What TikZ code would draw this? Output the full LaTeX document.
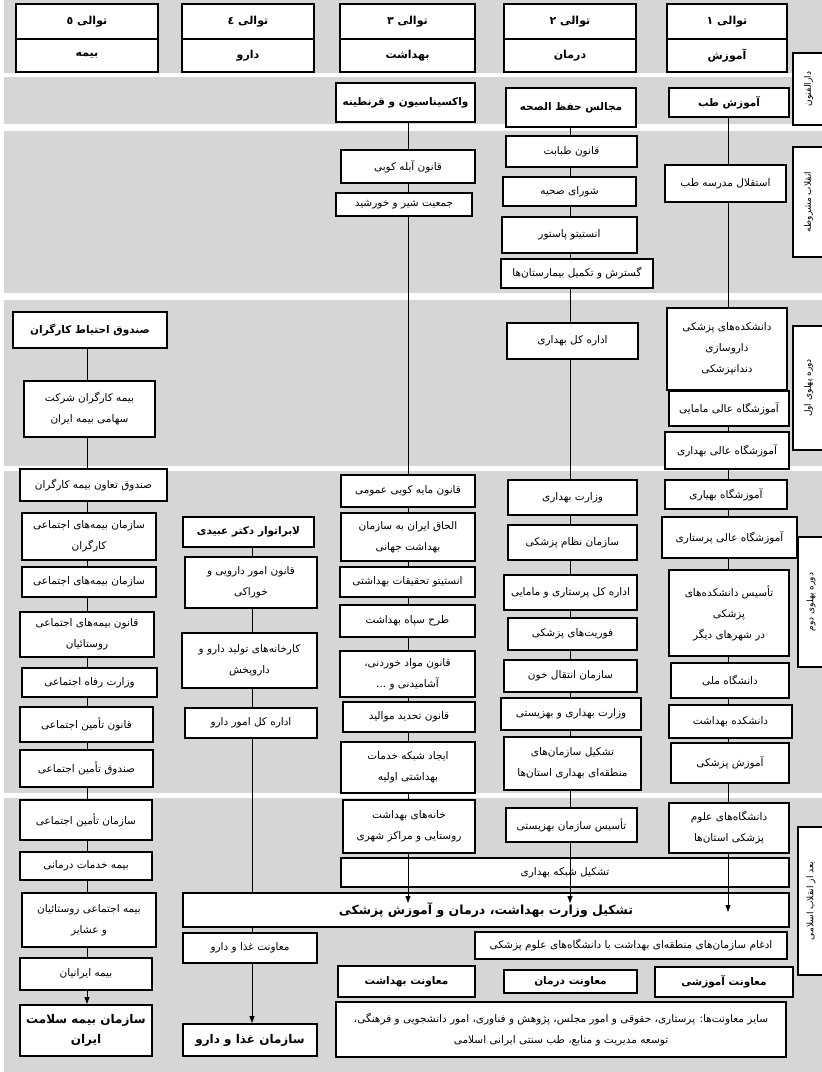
\documentclass[tikz,border=0pt]{standalone}
\usepackage{fontspec}
\usetikzlibrary{arrows.meta}
\newfontfamily\farsifont[Script=Arabic]{DejaVu Sans}
\TeXXeTstate=1
\newcommand\rl[1]{\beginR #1\endR}
\definecolor{bandgray}{RGB}{214,214,214}
\tikzset{
  box/.style={draw, line width=2pt, fill=white, align=center, inner sep=1pt,
    font=\farsifont\fontsize{10.5}{21}\selectfont},
  bbox/.style={box, font=\farsifont\bfseries\fontsize{10.5}{16}\selectfont},
  hbox/.style={box, font=\farsifont\bfseries\fontsize{11}{15}\selectfont},
  bigbox/.style={box, font=\farsifont\bfseries\fontsize{12}{20}\selectfont},
  lbl/.style={box, rotate=90, font=\farsifont\fontsize{9}{11}\selectfont},
  conn/.style={line width=0.9pt},
  arr/.style={conn, -{Triangle[length=7pt,width=5pt]}}
}
\newcommand\mybox[7][box]{\node[#1, minimum width={#5-#3}, minimum height={#6-#4}] (#2) at ({(#3+#5)/2},{(#4+#6)/2}) {#7};}
\begin{document}
\begin{tikzpicture}[x=1pt,y=-1pt]
\useasboundingbox (0,0) rectangle (822,1072);
% bands
\fill[bandgray] (4,0) rectangle (822,73);
\fill[bandgray] (4,77) rectangle (822,124);
\fill[bandgray] (4,131) rectangle (822,293);
\fill[bandgray] (4,300) rectangle (822,466);
\fill[bandgray] (4,471) rectangle (822,793);
\fill[bandgray] (4,798) rectangle (822,1072);
% column axes
\coordinate (x1) at (728,0);
\coordinate (x2) at (570,0);
\coordinate (x3) at (408,0);
\coordinate (x4) at (252,0);
\coordinate (x5) at (87,0);
\coordinate (t1) at (728,912);
\coordinate (t2) at (570,903);
\coordinate (t3) at (408,903);
% headers
\mybox[hbox]{h1t}{667}{4}{787}{39}{\rl{توالی ۱}}
\mybox[hbox]{h1b}{667}{39}{787}{72}{\rl{آموزش}}
\mybox[hbox]{h2t}{504}{4}{636}{39}{\rl{توالی ۲}}
\mybox[hbox]{h2b}{504}{39}{636}{72}{\rl{درمان}}
\mybox[hbox]{h3t}{340}{4}{475}{39}{\rl{توالی ۳}}
\mybox[hbox]{h3b}{340}{39}{475}{72}{\rl{بهداشت}}
\mybox[hbox]{h4t}{182}{4}{314}{39}{\rl{توالی ٤}}
\mybox[hbox]{h4b}{182}{39}{314}{72}{\rl{دارو}}
\mybox[hbox]{h5t}{16}{4}{158}{39}{\rl{توالی ٥}}
\mybox[hbox]{h5b}{16}{39}{158}{72}{\rl{بیمه}}
% period labels
\node[lbl, minimum width=72, minimum height=31] (L1) at (808.5,89) {\rl{دارالفنون}};
\node[lbl, minimum width=110, minimum height=31] (L2) at (808.5,202) {\rl{انقلاب مشروطه}};
\node[lbl, minimum width=124, minimum height=31] (L3) at (808.5,388) {\rl{دوره پهلوی اول}};
\node[lbl, minimum width=130, minimum height=26] (L4) at (811,602) {\rl{دوره پهلوی دوم}};
\node[lbl, minimum width=148, minimum height=26] (L5) at (811,901) {\rl{بعد از انقلاب اسلامی}};
% column 1
\mybox[bbox]{a1}{669}{88}{789}{117}{\rl{آموزش طب}}
\mybox{a2}{665}{165}{786}{202}{\rl{استقلال مدرسه طب}}
\mybox{a3}{667}{308}{787}{390}{\rl{دانشکده^^^^200cهای پزشکی}\\\rl{داروسازی}\\\rl{دندانپزشکی}}
\mybox{a4}{669}{391}{789}{426}{\rl{آموزشگاه عالی مامایی}}
\mybox{a5}{665}{432}{789}{469}{\rl{آموزشگاه عالی بهداری}}
\mybox{a6}{665}{480}{787}{509}{\rl{آموزشگاه بهیاری}}
\mybox{a7}{662}{517}{797}{558}{\rl{آموزشگاه عالی پرستاری}}
\mybox{a8}{669}{570}{789}{656}{\rl{تأسیس دانشکده^^^^200cهای}\\\rl{پزشکی}\\\rl{در شهرهای دیگر}}
\mybox{a9}{671}{663}{789}{698}{\rl{دانشگاه ملی}}
\mybox{a10}{669}{705}{792}{738}{\rl{دانشکده بهداشت}}
\mybox{a11}{671}{743}{789}{783}{\rl{آموزش پزشکی}}
\mybox{a12}{669}{803}{789}{853}{\rl{دانشگاه^^^^200cهای علوم}\\\rl{پزشکی استان^^^^200cها}}
% column 2
\mybox[bbox]{b1}{506}{88}{636}{127}{\rl{مجالس حفظ الصحه}}
\mybox{b2}{506}{136}{637}{167}{\rl{قانون طبابت}}
\mybox{b3}{503}{177}{636}{206}{\rl{شورای صحیه}}
\mybox{b4}{502}{217}{637}{253}{\rl{انستیتو پاستور}}
\mybox{b5}{501}{259}{653}{288}{\rl{گسترش و تکمیل بیمارستان^^^^200cها}}
\mybox{b6}{507}{323}{638}{359}{\rl{اداره کل بهداری}}
\mybox{b7}{508}{480}{637}{515}{\rl{وزارت بهداری}}
\mybox{b8}{508}{525}{637}{560}{\rl{سازمان نظام پزشکی}}
\mybox{b9}{504}{575}{637}{610}{\rl{اداره کل پرستاری و مامایی}}
\mybox{b10}{508}{618}{637}{650}{\rl{فوریت^^^^200cهای پزشکی}}
\mybox{b11}{504}{660}{637}{692}{\rl{سازمان انتقال خون}}
\mybox{b12}{501}{698}{641}{730}{\rl{وزارت بهداری و بهزیستی}}
\mybox{b13}{504}{737}{641}{790}{\rl{تشکیل سازمان^^^^200cهای}\\\rl{منطقه^^^^200cای بهداری استان^^^^200cها}}
\mybox{b14}{506}{808}{637}{842}{\rl{تأسیس سازمان بهزیستی}}
% column 3
\mybox[bbox]{c1}{336}{83}{475}{122}{\rl{واکسیناسیون و قرنطینه}}
\mybox{c2}{341}{150}{475}{183}{\rl{قانون آبله کوبی}}
\mybox{c3}{336}{193}{472}{216}{\rl{جمعیت شیر و خورشید}}
\mybox{c4}{341}{475}{475}{507}{\rl{قانون مایه کوبی عمومی}}
\mybox{c5}{341}{513}{475}{561}{\rl{الحاق ایران به سازمان}\\\rl{بهداشت جهانی}}
\mybox{c6}{340}{567}{475}{597}{\rl{انستیتو تحقیقات بهداشتی}}
\mybox{c7}{340}{605}{475}{637}{\rl{طرح سپاه بهداشت}}
\mybox{c8}{340}{651}{475}{697}{\rl{قانون مواد خوردنی،}\\\rl{آشامیدنی و ...}}
\mybox{c9}{343}{702}{475}{732}{\rl{قانون تحدید موالید}}
\mybox{c10}{341}{742}{475}{793}{\rl{ایجاد شبکه خدمات}\\\rl{بهداشتی اولیه}}
\mybox{c11}{343}{800}{475}{853}{\rl{خانه^^^^200cهای بهداشت}\\\rl{روستایی و مراکز شهری}}
% column 4
\mybox[bbox]{d1}{183}{517}{314}{547}{\rl{لابراتوار دکتر عبیدی}}
\mybox{d2}{185}{557}{317}{608}{\rl{قانون امور دارویی و}\\\rl{خوراکی}}
\mybox{d3}{182}{633}{317}{688}{\rl{کارخانه^^^^200cهای تولید دارو و}\\\rl{داروپخش}}
\mybox{d4}{185}{708}{317}{738}{\rl{اداره کل امور دارو}}
\mybox{d5}{183}{933}{317}{963}{\rl{معاونت غذا و دارو}}
\mybox[bigbox]{d6}{183}{1024}{317}{1056}{\rl{سازمان غذا و دارو}}
% column 5
\mybox[bbox]{e1}{13}{312}{167}{348}{\rl{صندوق احتیاط کارگران}}
\mybox{e2}{24}{381}{155}{437}{\rl{بیمه کارگران شرکت}\\\rl{سهامی بیمه ایران}}
\mybox{e3}{20}{469}{167}{501}{\rl{صندوق تعاون بیمه کارگران}}
\mybox{e4}{22}{513}{156}{560}{\rl{سازمان بیمه^^^^200cهای اجتماعی}\\\rl{کارگران}}
\mybox{e5}{22}{567}{156}{597}{\rl{سازمان بیمه^^^^200cهای اجتماعی}}
\mybox{e6}{20}{612}{154}{657}{\rl{قانون بیمه^^^^200cهای اجتماعی}\\\rl{روستائیان}}
\mybox{e7}{22}{668}{157}{697}{\rl{وزارت رفاه اجتماعی}}
\mybox{e8}{20}{707}{153}{742}{\rl{قانون تأمین اجتماعی}}
\mybox{e9}{20}{750}{153}{787}{\rl{صندوق تأمین اجتماعی}}
\mybox{e10}{20}{800}{152}{840}{\rl{سازمان تأمین اجتماعی}}
\mybox{e11}{20}{852}{152}{880}{\rl{بیمه خدمات درمانی}}
\mybox{e12}{22}{893}{156}{947}{\rl{بیمه اجتماعی روستائیان}\\\rl{و عشایر}}
\mybox{e13}{20}{958}{152}{990}{\rl{بیمه ایرانیان}}
\mybox[bigbox]{e14}{20}{1005}{152}{1056}{\rl{سازمان بیمه سلامت}\\\rl{ایران}}
% wide boxes of the last period
\mybox{net}{341}{858}{789}{887}{\rl{تشکیل شبکه بهداری}}
\mybox[bigbox]{big}{183}{893}{789}{927}{\fontsize{12.5}{18}\selectfont\rl{تشکیل وزارت بهداشت، درمان و آموزش پزشکی}}
\mybox{merge}{475}{932}{787}{959}{\rl{ادغام سازمان^^^^200cهای منطقه^^^^200cای بهداشت با دانشگاه^^^^200cهای علوم پزشکی}}
\mybox[bbox]{m1}{655}{967}{793}{997}{\rl{معاونت آموزشی}}
\mybox[bbox]{m2}{504}{970}{637}{993}{\rl{معاونت درمان}}
\mybox[bbox]{m3}{338}{966}{475}{997}{\rl{معاونت بهداشت}}
\mybox{other}{336}{1002}{786}{1057}{\rl{سایر معاونت^^^^200cها: پرستاری، حقوقی و امور مجلس، پژوهش و فناوری، امور دانشجویی و فرهنگی،}\\\rl{توسعه مدیریت و منابع، طب سنتی ایرانی اسلامی}}
% connectors column 1
\foreach \p/\q in {a1/a2,a2/a3,a3/a4,a4/a5,a5/a6,a6/a7,a7/a8,a8/a9,a9/a10,a10/a11,a11/a12}
  \draw[conn] (\p.south -| x1) -- (\q.north -| x1);
\draw[arr] (a12.south -| x1) -- (t1);
% column 2
\foreach \p/\q in {b1/b2,b2/b3,b3/b4,b4/b5,b5/b6,b6/b7,b7/b8,b8/b9,b9/b10,b10/b11,b11/b12,b12/b13,b13/b14}
  \draw[conn] (\p.south -| x2) -- (\q.north -| x2);
\draw[arr] (b14.south -| x2) -- (t2);
% column 3
\foreach \p/\q in {c1/c2,c2/c3,c3/c4,c4/c5,c5/c6,c6/c7,c7/c8,c8/c9,c9/c10,c10/c11}
  \draw[conn] (\p.south -| x3) -- (\q.north -| x3);
\draw[arr] (c11.south -| x3) -- (t3);
% column 4
\foreach \p/\q in {d1/d2,d2/d3,d3/d4,d4/big,big/d5}
  \draw[conn] (\p.south -| x4) -- (\q.north -| x4);
\draw[arr] (d5.south -| x4) -- (d6.north -| x4);
% column 5
\foreach \p/\q in {e1/e2,e2/e3,e3/e4,e4/e5,e5/e6,e6/e7,e7/e8,e8/e9,e9/e10,e10/e11,e11/e12,e12/e13}
  \draw[conn] (\p.south -| x5) -- (\q.north -| x5);
\draw[arr] (e13.south -| x5) -- (e14.north -| x5);
\end{tikzpicture}
\end{document}
